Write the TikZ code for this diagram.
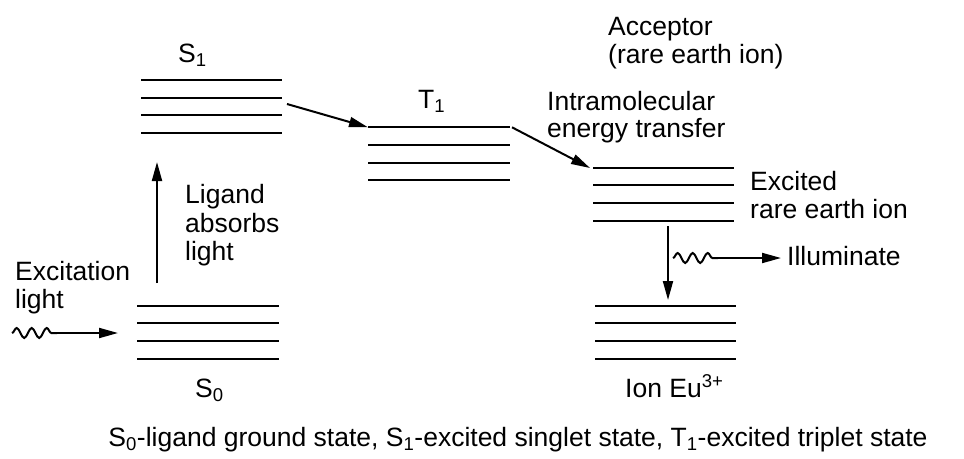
\documentclass[tikz,border=0pt]{standalone}
\usepackage{fontspec}
\setmainfont{Liberation Sans}
\usetikzlibrary{arrows.meta,decorations.pathmorphing}
\begin{document}
\begin{tikzpicture}[x=1pt,y=-1pt,
  lvl/.style={line width=2pt},
  arr/.style={line width=2pt,-{Triangle[length=19pt,width=10pt]}},
  wave/.style={line width=2pt,decorate,decoration={snake,segment length=15pt,amplitude=5pt}},
  lbl/.style={anchor=base west,inner sep=0pt,font=\fontsize{26.5}{30}\selectfont}]
\useasboundingbox (0,0) rectangle (964,458);
% energy levels
\foreach \y in {80,97.6,115.2,132.8} \draw[lvl] (141,\y) -- (282,\y);
\foreach \y in {127.3,145,162.6,180.2} \draw[lvl] (368,\y) -- (510,\y);
\foreach \y in {305.7,323.3,341,358.5} \draw[lvl] (137,\y) -- (279,\y);
\foreach \y in {167.7,185.3,203,220.5} \draw[lvl] (593,\y) -- (734,\y);
\foreach \y in {305.7,323.3,341,358.5} \draw[lvl] (595,\y) -- (736,\y);
% connector end points
\coordinate (s1out) at (287,104);
\coordinate (t1in) at (368,127.3);
\coordinate (t1out) at (512,127.3);
\coordinate (accin) at (590,168);
\coordinate (s0up) at (157,283);
\coordinate (s1in) at (157,162);
\coordinate (accdown) at (668,226);
\coordinate (grdin) at (668,300);
\coordinate (ew0) at (12,333);
\coordinate (ew1) at (57,333);
\coordinate (s0in) at (118,333);
\coordinate (iw0) at (673,258);
\coordinate (iw1) at (718,258);
\coordinate (ilout) at (781,258);
% arrows
\draw[arr] (s1out) -- (t1in);
\draw[arr] (t1out) -- (accin);
\draw[arr] (s0up) -- (s1in);
\draw[arr] (accdown) -- (grdin);
\draw[wave] (ew0) -- (ew1);
\draw[arr] (ew1) -- (s0in);
\draw[wave] (iw0) -- (iw1);
\draw[arr] (iw1) -- (ilout);
% labels
\node[lbl] (S1) at (178,62) {S\textsubscript{1}};
\node[lbl] (T1) at (418,108) {T\textsubscript{1}};
\node[lbl] (S0) at (195,397) {S\textsubscript{0}};
\node[lbl] (acc1) at (608,35) {Acceptor};
\node[lbl] (acc2) at (608,63) {(rare earth ion)};
\node[lbl] (im1) at (547,110) {Intramolecular};
\node[lbl] (im2) at (547,137) {energy transfer};
\node[lbl] (ex1) at (750,190) {Excited};
\node[lbl] (ex2) at (750,218) {rare earth ion};
\node[lbl] (ill) at (787,265) {Illuminate};
\node[lbl] (lig1) at (185,203) {Ligand};
\node[lbl] (lig2) at (185,232) {absorbs};
\node[lbl] (lig3) at (185,260) {light};
\node[lbl] (exc1) at (15,280) {Excitation};
\node[lbl] (exc2) at (15,308) {light};
\node[lbl] (ion) at (625,397) {Ion Eu\textsuperscript{3+}};
\node[lbl,anchor=base] (cap) at (518,446) {S\textsubscript{0}-ligand ground state, S\textsubscript{1}-excited singlet state, T\textsubscript{1}-excited triplet state};
\end{tikzpicture}
\end{document}
